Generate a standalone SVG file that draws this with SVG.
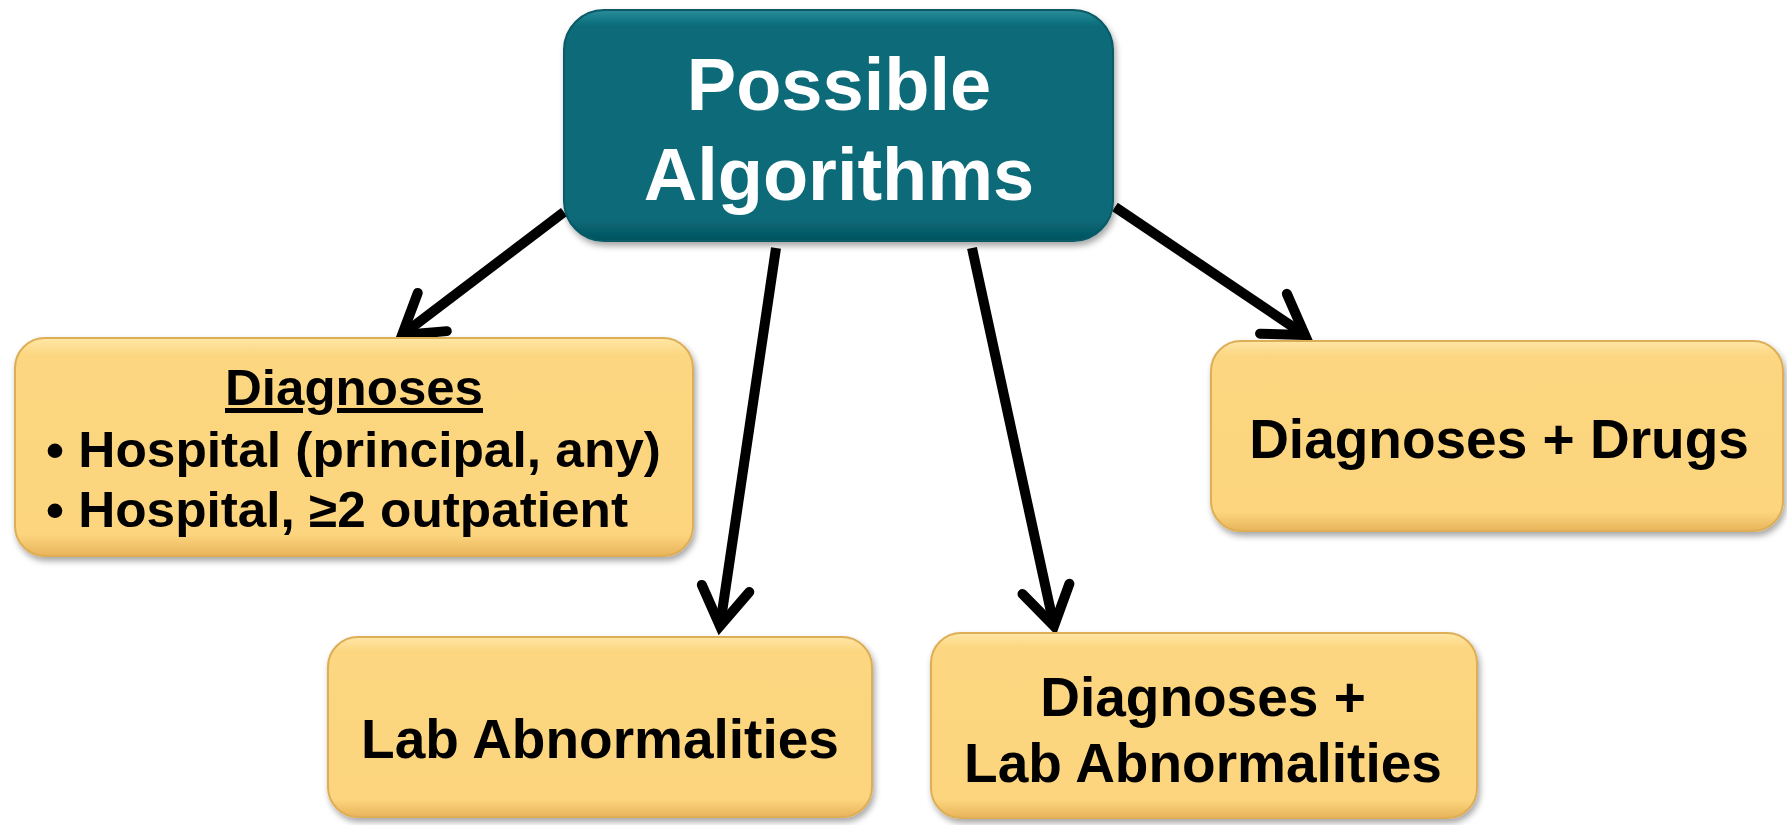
<svg xmlns="http://www.w3.org/2000/svg" width="1787" height="825" viewBox="0 0 1787 825">
<defs>
<style>
.lbl{font-family:"Liberation Sans",Arial,sans-serif;font-weight:bold;fill:#000;text-anchor:middle}
.top{font-family:"Liberation Sans",Arial,sans-serif;font-weight:bold;fill:#fff;text-anchor:middle;font-size:74px}
.yb{fill:url(#yg);stroke:#DDAE55;stroke-width:2}
.tb{fill:url(#tg);stroke:#075A66;stroke-width:2}
.con{stroke:#000;stroke-width:10;fill:none;marker-end:url(#ah)}
</style>
<linearGradient id="yg" x1="0" y1="0" x2="0" y2="1">
<stop offset="0" stop-color="#FFE7A6"/>
<stop offset="0.08" stop-color="#FCD680"/>
<stop offset="0.9" stop-color="#FCD57E"/>
<stop offset="1" stop-color="#E8B45A"/>
</linearGradient>
<linearGradient id="tg" x1="0" y1="0" x2="0" y2="1">
<stop offset="0" stop-color="#2A8D9A"/>
<stop offset="0.07" stop-color="#086B79"/>
<stop offset="0.9" stop-color="#086B79"/>
<stop offset="1" stop-color="#05535E"/>
</linearGradient>
<filter id="sh" x="-5%" y="-5%" width="110%" height="115%">
<feDropShadow dx="2" dy="4" stdDeviation="3" flood-color="#000" flood-opacity="0.35"/>
</filter>
<marker id="ah" markerUnits="userSpaceOnUse" markerWidth="60" markerHeight="60" viewBox="-50 -30 60 60" refX="0" refY="0" orient="auto">
<path d="M-38,-24 L0,0 L-38,24" fill="none" stroke="#000" stroke-width="10" stroke-linecap="round" stroke-linejoin="miter"/>
</marker>
</defs>
<rect width="1787" height="825" fill="#fff"/>
<g id="connectors">
<line class="con" x1="564" y1="212" x2="402" y2="335"/>
<line class="con" x1="776" y1="248" x2="720" y2="626"/>
<line class="con" x1="972" y1="248" x2="1054" y2="626"/>
<line class="con" x1="1115" y1="207" x2="1305" y2="335"/>
</g>
<g id="possible-algorithms">
<rect class="tb" x="564" y="10" width="549" height="231" rx="40" filter="url(#sh)"/>
<text class="top" x="839" y="110">Possible</text>
<text class="top" x="839" y="200">Algorithms</text>
</g>
<g id="diagnoses">
<rect class="yb" x="15" y="338" width="678" height="218" rx="30" filter="url(#sh)"/>
<text class="lbl" x="354" y="405" font-size="50" text-decoration="underline" textLength="258" lengthAdjust="spacingAndGlyphs">Diagnoses</text>
<text class="lbl" x="46" y="467" font-size="50" style="text-anchor:start" textLength="615" lengthAdjust="spacingAndGlyphs">• Hospital (principal, any)</text>
<text class="lbl" x="46" y="527" font-size="50" style="text-anchor:start" textLength="582" lengthAdjust="spacingAndGlyphs">• Hospital, ≥2 outpatient</text>
</g>
<g id="lab-abnormalities">
<rect class="yb" x="328" y="637" width="544" height="180" rx="30" filter="url(#sh)"/>
<text class="lbl" x="600" y="758" font-size="55">Lab Abnormalities</text>
</g>
<g id="diagnoses-lab">
<rect class="yb" x="931" y="633" width="546" height="185" rx="30" filter="url(#sh)"/>
<text class="lbl" x="1203" y="716" font-size="55">Diagnoses +</text>
<text class="lbl" x="1203" y="782" font-size="55">Lab Abnormalities</text>
</g>
<g id="diagnoses-drugs">
<rect class="yb" x="1211" y="341" width="572" height="190" rx="30" filter="url(#sh)"/>
<text class="lbl" x="1499" y="458" font-size="55">Diagnoses + Drugs</text>
</g>
</svg>
